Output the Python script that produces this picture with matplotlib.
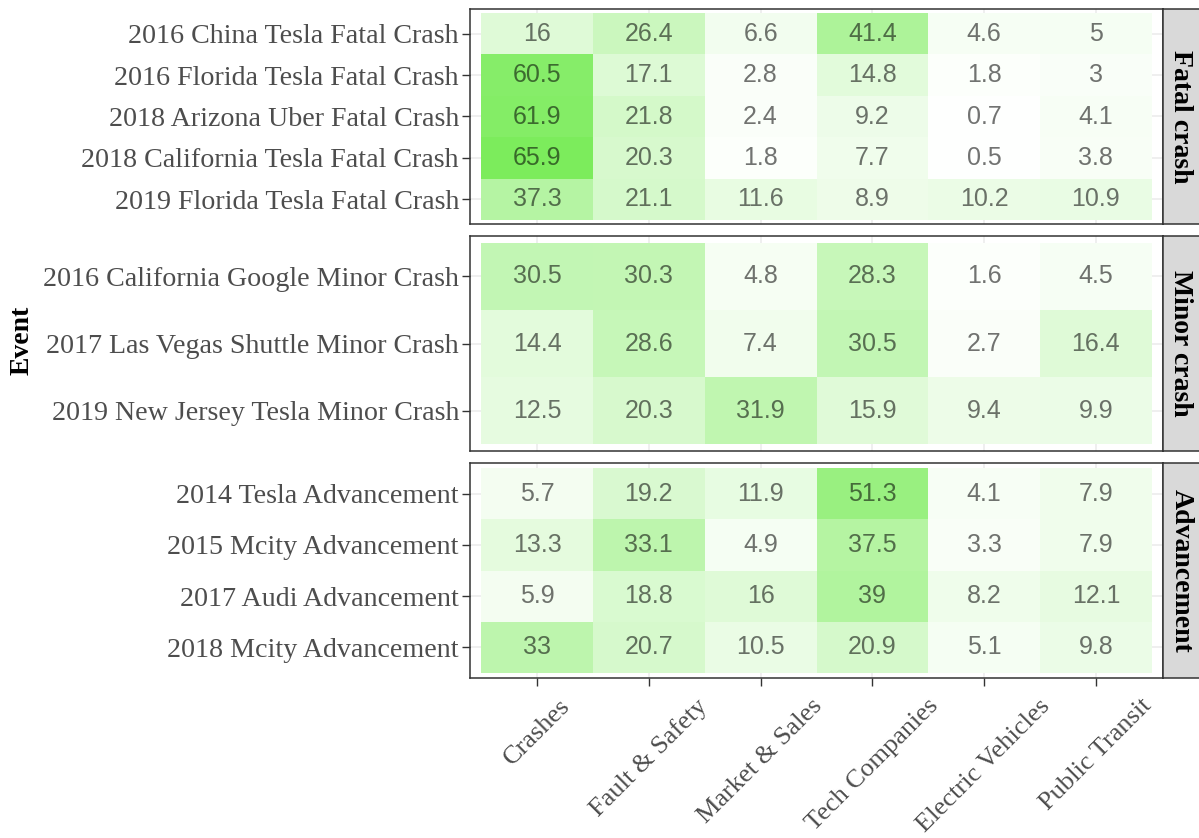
import matplotlib
matplotlib.use("Agg")
import matplotlib.pyplot as plt
import numpy as np
from matplotlib.colors import LinearSegmentedColormap, Normalize

topics = ["Crashes", "Fault & Safety", "Market & Sales", "Tech Companies",
          "Electric Vehicles", "Public Transit"]

facets = ["Fatal crash", "Minor crash", "Advancement"]

fatal_events = ["2016 China Tesla Fatal Crash", "2016 Florida Tesla Fatal Crash",
                "2018 Arizona Uber Fatal Crash", "2018 California Tesla Fatal Crash",
                "2019 Florida Tesla Fatal Crash"]
fatal_values = [
    [16, 26.4, 6.6, 41.4, 4.6, 5],
    [60.5, 17.1, 2.8, 14.8, 1.8, 3],
    [61.9, 21.8, 2.4, 9.2, 0.7, 4.1],
    [65.9, 20.3, 1.8, 7.7, 0.5, 3.8],
    [37.3, 21.1, 11.6, 8.9, 10.2, 10.9],
]

minor_events = ["2016 California Google Minor Crash", "2017 Las Vegas Shuttle Minor Crash",
                "2019 New Jersey Tesla Minor Crash"]
minor_values = [
    [30.5, 30.3, 4.8, 28.3, 1.6, 4.5],
    [14.4, 28.6, 7.4, 30.5, 2.7, 16.4],
    [12.5, 20.3, 31.9, 15.9, 9.4, 9.9],
]

adv_events = ["2014 Tesla Advancement", "2015 Mcity Advancement",
              "2017 Audi Advancement", "2018 Mcity Advancement"]
adv_values = [
    [5.7, 19.2, 11.9, 51.3, 4.1, 7.9],
    [13.3, 33.1, 4.9, 37.5, 3.3, 7.9],
    [5.9, 18.8, 16, 39, 8.2, 12.1],
    [33, 20.7, 10.5, 20.9, 5.1, 9.8],
]

groups = [(fatal_events, fatal_values), (minor_events, minor_values), (adv_events, adv_values)]

W, H = 1199, 838
fig = plt.figure(figsize=(W / 100, H / 100), dpi=100)

cmap = LinearSegmentedColormap.from_list("wg", ["#FFFFFF", "#7CEC5C"])
allv = [v for _, vals in groups for row in vals for v in row]
norm = Normalize(vmin=0, vmax=max(allv))

serif = ["Liberation Serif", "DejaVu Serif"]
sans = ["Liberation Sans", "DejaVu Sans"]

px_left, px_right = 470, 1163
panel_tops = [9, 236, 463]
panel_h = 215
dark = "#333333"
grid_c = "#EBEBEB"

for gi, ((events, vals), facet) in enumerate(zip(groups, facets)):
    top = panel_tops[gi]
    ax = fig.add_axes([px_left / W, 1 - (top + panel_h) / H,
                       (px_right - px_left) / W, panel_h / H])
    n = len(events)
    arr = np.array(vals, dtype=float)
    ypos = np.arange(n)[::-1] + 1
    xpos = np.arange(len(topics)) + 1
    ax.set_xlim(0.4, len(topics) + 0.6)
    ax.set_ylim(0.4, n + 0.6)
    ax.set_axisbelow(True)
    ax.set_xticks(xpos)
    ax.set_yticks(ypos)
    ax.grid(True, color=grid_c, linewidth=1.1)
    for i in range(n):
        for j in range(len(topics)):
            v = arr[i, j]
            ax.add_patch(plt.Rectangle((xpos[j] - 0.5, ypos[i] - 0.5), 1, 1,
                                       facecolor=cmap(norm(v)), edgecolor="none", zorder=1))
            ax.text(xpos[j], ypos[i], f"{v:g}", ha="center", va="center",
                    fontsize=18, family=sans, color="black", alpha=0.55, zorder=3)
    ax.set_yticklabels(events, fontsize=20.2, family=serif, color="#4D4D4D")
    ax.tick_params(axis="both", color=dark, width=1.0, length=6, pad=2)
    if gi == 2:
        ax.set_xticklabels(topics, fontsize=19, family=serif, color="#4D4D4D",
                           rotation=45, ha="center", va="top")
        ax.tick_params(axis="x", pad=6)
    else:
        ax.set_xticklabels([])
        ax.tick_params(axis="x", length=0)
    for s in ax.spines.values():
        s.set_color(dark)
        s.set_linewidth(1.1)

    sax = fig.add_axes([px_right / W, 1 - (top + panel_h) / H, 40 / W, panel_h / H])
    sax.set_xticks([]); sax.set_yticks([])
    sax.set_facecolor("#D9D9D9")
    for s in sax.spines.values():
        s.set_color(dark)
        s.set_linewidth(1.1)
    sax.text(0.5 * 36 / 40, 0.5, facet, rotation=-90, ha="center", va="center",
             fontsize=20, family=serif, fontweight="bold", color="black",
             transform=sax.transAxes)

fig.text(22 / W, 1 - 340 / H, "Event", rotation=90, ha="center", va="center",
         fontsize=20, family=serif, fontweight="bold", color="black")

fig.savefig("out.png", dpi=100)
